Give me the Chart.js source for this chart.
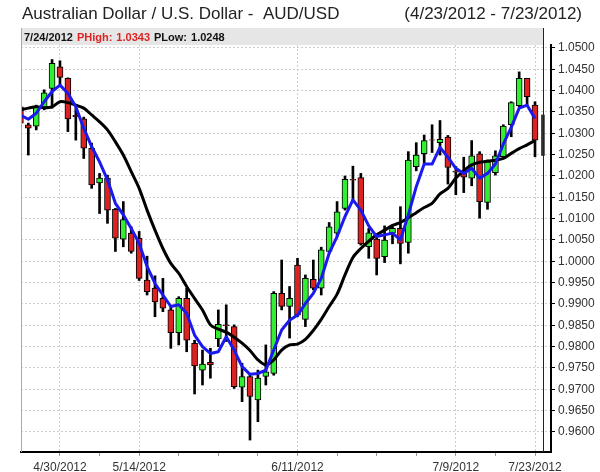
<!DOCTYPE html>
<html>
<head>
<meta charset="utf-8">
<script src="https://cdn.jsdelivr.net/npm/chart.js@4.4.0/dist/chart.umd.min.js"></script>
<style>
  html, body { margin: 0; padding: 0; background: #fff; }
  #wrap { width: 600px; height: 472px; }
</style>
</head>
<body>
<div id="wrap"><canvas id="fxChart" width="600" height="472"></canvas></div>
<script>
// daily AUD/USD candles, 4/23/2012 .. 7/23/2012 (one per weekday)
const opens = [1.0362, 1.0320, 1.0317, 1.0359, 1.0405, 1.0456, 1.0429, 1.0342, 1.0334, 1.0265,
    1.0184, 1.0195, 1.0122, 1.0052, 1.0066, 1.0054, 0.9956, 0.9937, 0.9913, 0.9886,
    0.9833, 0.9913, 0.9808, 0.9745, 0.9763, 0.9818, 0.9851, 0.9847, 0.9705, 0.9730,
    0.9675, 0.9730, 0.9737, 0.9925, 0.9894, 0.9991, 0.9864, 0.9958, 0.9937, 1.0023,
    1.0066, 1.0124, 1.0192, 1.0196, 1.0034, 1.0052, 1.0011, 1.0066, 1.0077, 1.0044,
    1.0222, 1.0252, 1.0285, 1.0278, 1.0291, 1.0211, 1.0210, 1.0195, 1.0252, 1.0138,
    1.0208, 1.0245, 1.0320, 1.0365, 1.0429, 1.0366];
const highs = [1.0382, 1.0324, 1.0366, 1.0402, 1.0473, 1.0470, 1.0430, 1.0359, 1.0338, 1.0277,
    1.0206, 1.0202, 1.0124, 1.0140, 1.0081, 1.0070, 1.0012, 0.9966, 0.9960, 0.9894,
    0.9917, 0.9937, 0.9815, 0.9792, 0.9796, 0.9886, 0.9898, 0.9851, 0.9761, 0.9733,
    0.9745, 0.9804, 0.9929, 1.0003, 0.9941, 1.0007, 0.9968, 1.0003, 1.0033, 1.0091,
    1.0140, 1.0200, 1.0223, 1.0206, 1.0077, 1.0058, 1.0083, 1.0081, 1.0128, 1.0257,
    1.0278, 1.0296, 1.0320, 1.0330, 1.0295, 1.0222, 1.0244, 1.0283, 1.0257, 1.0237,
    1.0259, 1.0320, 1.0374, 1.0444, 1.0429, 1.0374];
const lows = [1.0273, 1.0249, 1.0308, 1.0355, 1.0359, 1.0413, 1.0304, 1.0284, 1.0241, 1.0171,
    1.0112, 1.0089, 1.0023, 1.0034, 1.0019, 0.9955, 0.9921, 0.9870, 0.9882, 0.9796,
    0.9804, 0.9788, 0.9689, 0.9710, 0.9726, 0.9800, 0.9812, 0.9702, 0.9671, 0.9581,
    0.9624, 0.9710, 0.9733, 0.9886, 0.9820, 0.9870, 0.9847, 0.9933, 0.9921, 1.0019,
    1.0058, 1.0120, 1.0144, 1.0038, 1.0007, 0.9968, 0.9997, 1.0041, 0.9994, 1.0019,
    1.0212, 1.0230, 1.0255, 1.0249, 1.0181, 1.0156, 1.0161, 1.0177, 1.0101, 1.0122,
    1.0202, 1.0244, 1.0292, 1.0362, 1.0366, 1.0245];
const closes = [1.0324, 1.0312, 1.0362, 1.0395, 1.0464, 1.0431, 1.0334, 1.0339, 1.0265, 1.0179,
    1.0195, 1.0120, 1.0054, 1.0098, 1.0023, 0.9960, 0.9929, 0.9905, 0.9890, 0.9833,
    0.9913, 0.9815, 0.9755, 0.9759, 0.9757, 0.9852, 0.9849, 0.9706, 0.9730, 0.9683,
    0.9726, 0.9741, 0.9925, 0.9894, 0.9913, 0.9874, 0.9960, 0.9937, 1.0027, 1.0081,
    1.0116, 1.0192, 1.0190, 1.0041, 1.0067, 1.0007, 1.0050, 1.0077, 1.0042, 1.0237,
    1.0249, 1.0283, 1.0284, 1.0286, 1.0220, 1.0209, 1.0197, 1.0247, 1.0140, 1.0233,
    1.0247, 1.0317, 1.0372, 1.0429, 1.0386, 1.0284];

// moving averages (blue = fast, black = slow)
const fastMA = [1.0343, 1.0333, 1.0347, 1.0374, 1.0398, 1.0413, 1.0394, 1.0362, 1.0312, 1.0269,
    1.0233, 1.0191, 1.0136, 1.0109, 1.0077, 1.0042, 0.9988, 0.9948, 0.9921, 0.9894,
    0.9898, 0.9878, 0.9827, 0.9800, 0.9784, 0.9788, 0.9823, 0.9792, 0.9753, 0.9735,
    0.9737, 0.9745, 0.9792, 0.9839, 0.9862, 0.9874, 0.9901, 0.9925, 0.9960, 1.0019,
    1.0058, 1.0105, 1.0144, 1.0120, 1.0083, 1.0058, 1.0062, 1.0066, 1.0050, 1.0109,
    1.0175, 1.0228, 1.0228, 1.0267, 1.0244, 1.0218, 1.0206, 1.0218, 1.0195, 1.0206,
    1.0228, 1.0275, 1.0314, 1.0359, 1.0366, 1.0335];
const slowMA = [1.0355, 1.0359, 1.0362, 1.0360, 1.0362, 1.0374, 1.0372, 1.0366, 1.0359, 1.0343,
    1.0327, 1.0308, 1.0280, 1.0249, 1.0210, 1.0171, 1.0120, 1.0073, 1.0030, 0.9995,
    0.9972, 0.9941, 0.9913, 0.9886, 0.9851, 0.9841, 0.9834, 0.9822, 0.9808, 0.9791,
    0.9769, 0.9757, 0.9769, 0.9792, 0.9804, 0.9806, 0.9817, 0.9838, 0.9864, 0.9894,
    0.9923, 0.9968, 1.0009, 1.0030, 1.0047, 1.0062, 1.0073, 1.0084, 1.0091, 1.0102,
    1.0114, 1.0126, 1.0136, 1.0158, 1.0171, 1.0195, 1.0212, 1.0226, 1.0232, 1.0235,
    1.0237, 1.0241, 1.0253, 1.0264, 1.0273, 1.0283];

// projected range for the next day (7/24/2012)
const nextDay = 66;
const pHigh = 1.0343;
const pLow = 1.0248;

// axis ticks
const weekDays = [5, 10, 15, 20, 25, 30, 35, 40, 45, 50, 55, 60, 65];
const tickDays = [5, 15, 35, 55, 65];
const tickLabels = ["4/30/2012", "5/14/2012", "6/11/2012", "7/9/2012", "7/23/2012"];
const priceTicks = [0.9600, 0.9650, 0.9700, 0.9750, 0.9800, 0.9850, 0.9900, 0.9950, 1.0000,
    1.0050, 1.0100, 1.0150, 1.0200, 1.0250, 1.0300, 1.0350, 1.0400, 1.0450, 1.0500];

const FONT = "'Liberation Sans', Arial, sans-serif";
const days = opens.map((_, i) => i);
const bodyColors = days.map(i => (closes[i] >= opens[i] ? "#33ee33" : "#dd2222"));

// title, info band and extra frame lines
const decor = {
    id: "decor",
    beforeDraw(chart) {
        const { ctx, chartArea } = chart;
        const xNext = chart.scales.x.getPixelForValue(nextDay);
        ctx.save();
        ctx.fillStyle = "#fff";
        ctx.fillRect(0, 0, chart.width, chart.height);
        ctx.fillStyle = "#e6e6e6";
        ctx.fillRect(chartArea.left, 28, xNext - chartArea.left, chartArea.top - 28);
        ctx.restore();
    },
    afterDraw(chart) {
        const { ctx, chartArea } = chart;
        const xNext = Math.round(chart.scales.x.getPixelForValue(nextDay)) + 0.5;
        ctx.save();
        // left frame
        ctx.strokeStyle = "#aaa";
        ctx.lineWidth = 1;
        ctx.beginPath();
        ctx.moveTo(chartArea.left + 0.5, 28);
        ctx.lineTo(chartArea.left + 0.5, chartArea.bottom);
        ctx.stroke();
        // next-day marker line
        ctx.strokeStyle = "#222";
        ctx.beginPath();
        ctx.moveTo(xNext, 28);
        ctx.lineTo(xNext, chartArea.bottom);
        ctx.stroke();

        // title
        ctx.fillStyle = "#222";
        ctx.font = "17px " + FONT;
        ctx.textBaseline = "alphabetic";
        ctx.textAlign = "left";
        ctx.fillText("Australian Dollar / U.S. Dollar -  AUD/USD", 22, 19);
        ctx.textAlign = "right";
        ctx.fillText("(4/23/2012 - 7/23/2012)", 582, 19);

        // info band text
        ctx.textAlign = "left";
        const parts = [
            ["7/24/2012", "#111"],
            ["PHigh:", "#dd2222"],
            [pHigh.toFixed(4), "#dd2222"],
            ["PLow:", "#111"],
            [pLow.toFixed(4), "#111"]
        ];
        let x = 24;
        parts.forEach(([txt, col]) => {
            ctx.font = "bold 11px " + FONT;
            ctx.fillStyle = col;
            ctx.fillText(txt, x, 41);
            x += ctx.measureText(txt).width + 4;
        });
        ctx.restore();
    }
};

const ctx = document.getElementById("fxChart");
new Chart(ctx, {
    type: "bar",
    data: {
        datasets: [
            {
                type: "line",
                label: "Fast MA",
                data: days.map(i => ({ x: i, y: fastMA[i] })),
                borderColor: "#1a1aee",
                borderWidth: 3,
                pointRadius: 0,
                tension: 0,
                borderJoinStyle: "round",
                order: 0
            },
            {
                type: "line",
                label: "Slow MA",
                data: days.map(i => ({ x: i, y: slowMA[i] })),
                borderColor: "#000",
                borderWidth: 3,
                pointRadius: 0,
                tension: 0.3,
                borderJoinStyle: "round",
                order: 1
            },
            {
                label: "Body",
                data: days.map(i => ({ x: i, y: [opens[i], closes[i]] })),
                backgroundColor: bodyColors,
                borderColor: "#000",
                borderWidth: 1,
                borderSkipped: false,
                barThickness: 6,
                grouped: false,
                order: 2
            },
            {
                label: "Wick",
                data: days.map(i => ({ x: i, y: [lows[i], highs[i]] })),
                backgroundColor: "#000",
                barThickness: 2,
                grouped: false,
                order: 3
            },
            {
                label: "Projected",
                data: [{ x: nextDay, y: [pLow, pHigh] }],
                backgroundColor: "#333",
                barThickness: 3,
                grouped: false,
                order: 3
            }
        ]
    },
    options: {
        responsive: false,
        animation: false,
        layout: { padding: { left: 21, top: 45, right: 0, bottom: 0 } },
        plugins: { legend: { display: false }, tooltip: { enabled: false } },
        scales: {
            x: {
                type: "linear",
                offset: false,
                min: 0.076,
                max: 67.02,
                afterBuildTicks: s => { s.ticks = weekDays.map(v => ({ value: v })); },
                afterFit: s => { s.height = 20; },
                grid: {
                    offset: false,
                    color: c => (c.tick && tickDays.includes(c.tick.value) ? "#cfcfcf" : "rgba(0,0,0,0)"),
                    tickColor: "#999",
                    tickLength: 4
                },
                border: { display: true, color: "#000", width: 2, dash: [2, 2] },
                ticks: {
                    autoSkip: false,
                    maxRotation: 0,
                    padding: 4,
                    color: "#333",
                    font: { family: FONT, size: 12 },
                    callback: v => {
                        const k = tickDays.indexOf(v);
                        return k >= 0 ? tickLabels[k] : "";
                    }
                }
            },
            y: {
                position: "right",
                min: 0.9553,
                max: 1.0507,
                afterBuildTicks: s => { s.ticks = priceTicks.map(v => ({ value: v })); },
                afterFit: s => { s.width = 49; },
                grid: { color: "#cfcfcf", tickColor: "#000", tickLength: 4 },
                border: { display: true, color: "#000", width: 2, dash: [2, 2] },
                ticks: {
                    padding: 3,
                    color: "#333",
                    font: { family: FONT, size: 12 },
                    callback: v => v.toFixed(4)
                }
            }
        }
    },
    plugins: [decor]
});
</script>
</body>
</html>
